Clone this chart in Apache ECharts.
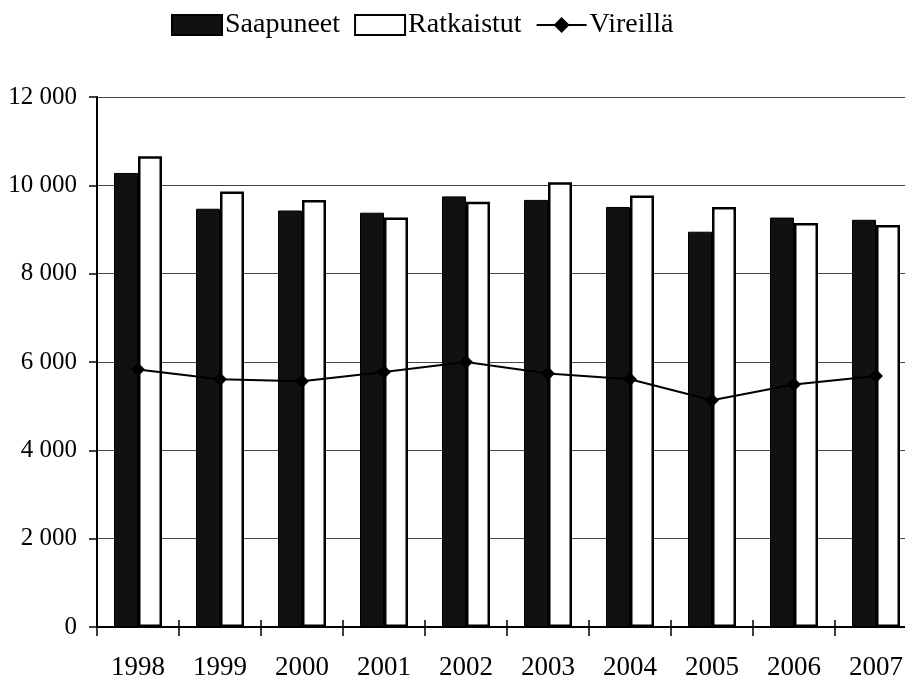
<!DOCTYPE html>
<html>
<head>
<meta charset="utf-8">
<script src="https://cdn.jsdelivr.net/npm/echarts@6/dist/echarts.min.js"></script>
<style>html,body{margin:0;padding:0;background:#fff;overflow:hidden;width:905px;height:686px}#c{width:925px;height:686px}</style>
</head>
<body>
<div id="c"></div>
<script>
const years = ['1998','1999','2000','2001','2002','2003','2004','2005','2006','2007'];
const saapuneet = [10280, 9470, 9430, 9380, 9750, 9670, 9510, 8950, 9270, 9220];
const ratkaistut = [10660, 9860, 9670, 9270, 9630, 10070, 9770, 9510, 9150, 9100];
const vireilla = [5830, 5610, 5565, 5776, 6002, 5739, 5610, 5135, 5490, 5685];
const yTicks = [0, 2000, 4000, 6000, 8000, 10000, 12000];

const FONT = '"Liberation Serif", "Times New Roman", serif';
const chart = echarts.init(document.getElementById('c'));
function fmt(v){ return v === 0 ? '0' : String(v).replace(/\B(?=(\d{3})+(?!\d))/g, ' '); }
chart.setOption({
  animation: false,
  backgroundColor: '#fff',
  textStyle: { fontFamily: FONT, color: '#000' },
  legend: {
    left: 166, top: 6,
    itemWidth: 50, itemHeight: 20, itemGap: 14,
    textStyle: { fontFamily: FONT, fontSize: 28, color: '#000', padding: [0,0,0,-2] },
    data: [
      { name: 'Saapuneet', icon: 'rect' },
      { name: 'Ratkaistut', icon: 'rect' },
      { name: 'Vireillä' }
    ]
  },
  grid: { left: 97, top: 97, width: 820, height: 530, containLabel: false },
  xAxis: [{
    type: 'category', data: years, boundaryGap: true,
    axisLine: { lineStyle: { color: '#000', width: 2 } },
    axisTick: { show: true, length: 9, lineStyle: { color: '#000', width: 1.5 } },
    axisLabel: { fontFamily: FONT, fontSize: 27, color: '#000', margin: 27 }
  }, {
    type: 'category', data: years, boundaryGap: true, position: 'bottom',
    axisLine: { show: false },
    axisTick: { show: true, inside: true, length: 7, lineStyle: { color: '#000', width: 1.5 } },
    axisLabel: { show: false }
  }],
  yAxis: {
    type: 'value', min: 0, max: 12000, interval: 2000,
    axisLine: { show: true, lineStyle: { color: '#000', width: 2 } },
    axisTick: { show: true, length: 8, lineStyle: { color: '#000', width: 1.5 } },
    axisLabel: { fontFamily: FONT, fontSize: 25, color: '#000', margin: 20,
      formatter: function(v){ return yTicks.indexOf(v) >= 0 ? fmt(v) : ''; } },
    splitLine: { show: true, lineStyle: { color: '#444', width: 1 } }
  },
  series: [
    { name: 'Saapuneet', type: 'bar', data: saapuneet, barWidth: 24, barGap: '0%',
      itemStyle: { color: '#111', borderColor: '#000', borderWidth: 1 } },
    { name: 'Ratkaistut', type: 'bar', data: ratkaistut, barWidth: 24,
      itemStyle: { color: '#fff', borderColor: '#000', borderWidth: 2.5 } },
    { name: 'Vireillä', type: 'line', data: vireilla, z: 5,
      symbol: 'diamond', symbolSize: 14,
      lineStyle: { color: '#000', width: 2 },
      itemStyle: { color: '#000' } }
  ]
});
</script>
</body>
</html>
